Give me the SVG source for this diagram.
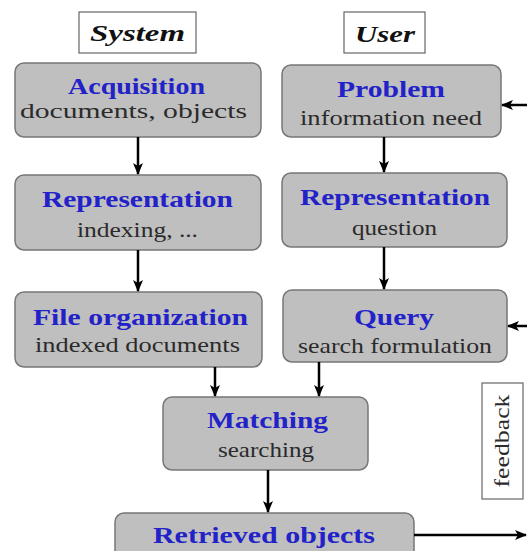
<svg xmlns="http://www.w3.org/2000/svg" width="527" height="551" viewBox="0 0 527 551">
  <style>
    .box { fill: #bfbfbf; stroke: #777; stroke-width: 1.5; }
    .lbl { fill: #fff; stroke: #666; stroke-width: 1.2; }
    .title { font-family: "Liberation Serif", "Times New Roman", serif; font-weight: bold; font-size: 23px; fill: #2222c8; text-anchor: middle; }
    .sub { font-family: "Liberation Serif", "Times New Roman", serif; font-size: 22px; fill: #2b2b2b; text-anchor: middle; }
    .head { font-family: "Liberation Serif", "Times New Roman", serif; font-style: italic; font-size: 23px; fill: #111; text-anchor: middle; }
    .arrow { stroke: #000; stroke-width: 2.5; fill: none; marker-end: url(#ah); }
  </style>
  <defs>
    <marker id="ah" markerUnits="userSpaceOnUse" markerWidth="12" markerHeight="10" refX="11" refY="5" orient="auto">
      <path d="M0,0 L12,5 L0,10 L3,5 Z" fill="#000"/>
    </marker>
  </defs>

  <rect width="527" height="551" fill="#fff"/>

  <!-- column headings -->
  <g id="system-label">
    <rect class="lbl" x="79" y="12" width="117" height="41"/>
    <text class="head" x="137.5" y="41" textLength="95" lengthAdjust="spacingAndGlyphs" font-weight="bold">System</text>
  </g>
  <g id="user-label">
    <rect class="lbl" x="344" y="12" width="81" height="41"/>
    <text class="head" x="385" y="41.5" textLength="60" lengthAdjust="spacingAndGlyphs" font-weight="bold">User</text>
  </g>

  <!-- system side -->
  <g id="acquisition">
    <rect class="box" x="15" y="63" width="246" height="74" rx="9"/>
    <text class="title" x="136.5" y="93.5" textLength="137" lengthAdjust="spacingAndGlyphs">Acquisition</text>
    <text class="sub" x="133.5" y="118" font-size="20.5" textLength="227" lengthAdjust="spacingAndGlyphs">documents, objects</text>
  </g>
  <g id="representation-system">
    <rect class="box" x="15" y="175" width="246" height="75" rx="9"/>
    <text class="title" x="137.5" y="207" textLength="191" lengthAdjust="spacingAndGlyphs">Representation</text>
    <text class="sub" x="137.5" y="237" textLength="121" lengthAdjust="spacingAndGlyphs">indexing, ...</text>
  </g>
  <g id="file-organization">
    <rect class="box" x="15" y="292" width="247" height="75" rx="9"/>
    <text class="title" x="140.5" y="325" textLength="215" lengthAdjust="spacingAndGlyphs">File organization</text>
    <text class="sub" x="137.5" y="352" textLength="205" lengthAdjust="spacingAndGlyphs">indexed documents</text>
  </g>

  <!-- user side -->
  <g id="problem">
    <rect class="box" x="282" y="65" width="219" height="72" rx="9"/>
    <text class="title" x="391" y="97" textLength="108" lengthAdjust="spacingAndGlyphs">Problem</text>
    <text class="sub" x="391" y="125" textLength="182" lengthAdjust="spacingAndGlyphs">information  need</text>
  </g>
  <g id="representation-user">
    <rect class="box" x="282" y="173" width="225" height="74" rx="9"/>
    <text class="title" x="395" y="205" textLength="190" lengthAdjust="spacingAndGlyphs">Representation</text>
    <text class="sub" x="394.5" y="235" textLength="85" lengthAdjust="spacingAndGlyphs">question</text>
  </g>
  <g id="query">
    <rect class="box" x="283" y="290" width="224" height="72" rx="9"/>
    <text class="title" x="394" y="325" textLength="80" lengthAdjust="spacingAndGlyphs">Query</text>
    <text class="sub" x="395" y="353" textLength="194" lengthAdjust="spacingAndGlyphs">search formulation</text>
  </g>

  <!-- joint part -->
  <g id="matching">
    <rect class="box" x="163" y="397" width="205" height="73" rx="9"/>
    <text class="title" x="267.5" y="428" textLength="121" lengthAdjust="spacingAndGlyphs">Matching</text>
    <text class="sub" x="266" y="457" textLength="96" lengthAdjust="spacingAndGlyphs">searching</text>
  </g>
  <g id="retrieved-objects">
    <rect class="box" x="115" y="513" width="299" height="60" rx="9"/>
    <text class="title" x="264" y="543" textLength="222" lengthAdjust="spacingAndGlyphs">Retrieved objects</text>
  </g>

  <g id="feedback-label">
    <rect class="lbl" x="482" y="383" width="41" height="116"/>
    <text class="sub" transform="translate(509,441) rotate(-90)" x="0" y="0" fill="#111" textLength="93" lengthAdjust="spacingAndGlyphs">feedback</text>
  </g>

  <!-- connectors -->
  <g id="connectors">
    <line class="arrow" x1="138" y1="137" x2="138" y2="174"/>
    <line class="arrow" x1="138" y1="250" x2="138" y2="291"/>
    <line class="arrow" x1="384" y1="137" x2="384" y2="172"/>
    <line class="arrow" x1="384" y1="247" x2="384" y2="289"/>
    <line class="arrow" x1="215" y1="367" x2="215" y2="396"/>
    <line class="arrow" x1="319" y1="362" x2="319" y2="396"/>
    <line class="arrow" x1="268" y1="470" x2="268" y2="512"/>
    <line class="arrow" x1="527" y1="105" x2="502" y2="105"/>
    <line class="arrow" x1="527" y1="326" x2="508" y2="326"/>
    <line class="arrow" x1="414" y1="535" x2="526" y2="535"/>
  </g>
</svg>
